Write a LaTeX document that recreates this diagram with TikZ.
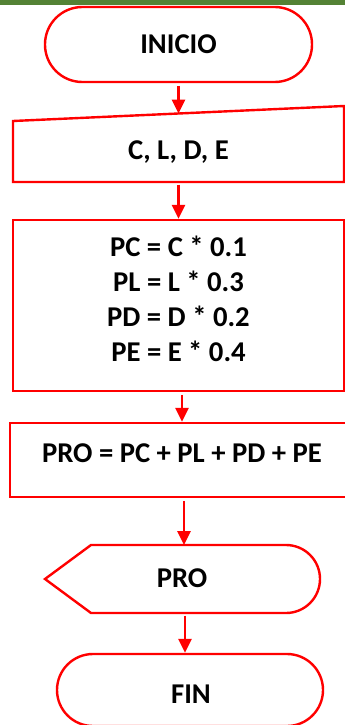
\documentclass[tikz,border=0pt]{standalone}
\usepackage{fontspec}
\setmainfont{Carlito}
\usetikzlibrary{arrows.meta}
\definecolor{flred}{RGB}{255,0,0}
\definecolor{topgreen}{RGB}{84,130,53}
\tikzset{
  shapeline/.style={draw=flred, line width=1.8pt, line join=miter},
  lbl/.style={font=\bfseries\fontsize{21.5}{26.25}\selectfont, text=black, inner sep=0pt, align=center},
  term/.style={shapeline, rectangle, inner sep=0pt},
  arr/.style={draw=flred, line width=1.6pt, -{Triangle[width=10pt,length=10.5pt]}, shorten <=2pt}
}
\begin{document}
\begin{tikzpicture}[x=0.75pt,y=-0.75pt]
\useasboundingbox (0,0) rectangle (345,725);
\clip (0,0) rectangle (345,725);
\fill[topgreen] (0,0) rectangle (345,4.5);

% INICIO
\node[term, rounded corners=28pt, minimum width=200.25pt, minimum height=56.25pt, lbl] (start) at (178.5,44.5) {INICIO};

% input
\draw[shapeline] (13,121) -- (344,106) -- (344,182) -- (13,182) -- cycle;
\node[lbl] (input) at (178.5,152) {C, L, D, E};
\coordinate (intop) at (178.5,113.5);
\coordinate (inbot) at (178.5,182);

% process
\node[term, minimum width=248.25pt, minimum height=128.25pt] (proc) at (178.5,305.5) {};
\node[lbl] (proctxt) at (178.5,298.5) {PC = C * 0.1\\PL = L * 0.3\\PD = D * 0.2\\PE = E * 0.4};

% PRO assignment
\node[term, minimum width=258pt, minimum height=55.5pt] (pro) at (182,460) {};
\node[lbl] (protxt) at (182,453) {PRO = PC + PL + PD + PE};

% display
\draw[shapeline] (45,579) -- (91,545) -- (286,545) arc[start angle=-90, end angle=90, radius=34] -- (91,613) -- cycle;
\node[lbl] (disp) at (182,578) {PRO};
\coordinate (disptop) at (184,545);
\coordinate (dispbot) at (185,613);

% FIN
\node[term, rounded corners=27pt, minimum width=199.5pt, minimum height=54pt] (fin) at (190,690) {};
\node[lbl] (fintxt) at (191,694) {FIN};

% arrows
\draw[arr] (start.south) -- (intop);
\draw[arr] (inbot) -- (proc.north);
\draw[arr] (proc.south -| pro.north) -- (pro.north);
\draw[arr] (pro.south -| disptop) -- (disptop);
\draw[arr] (dispbot) -- (dispbot |- fin.north);
\end{tikzpicture}
\end{document}
